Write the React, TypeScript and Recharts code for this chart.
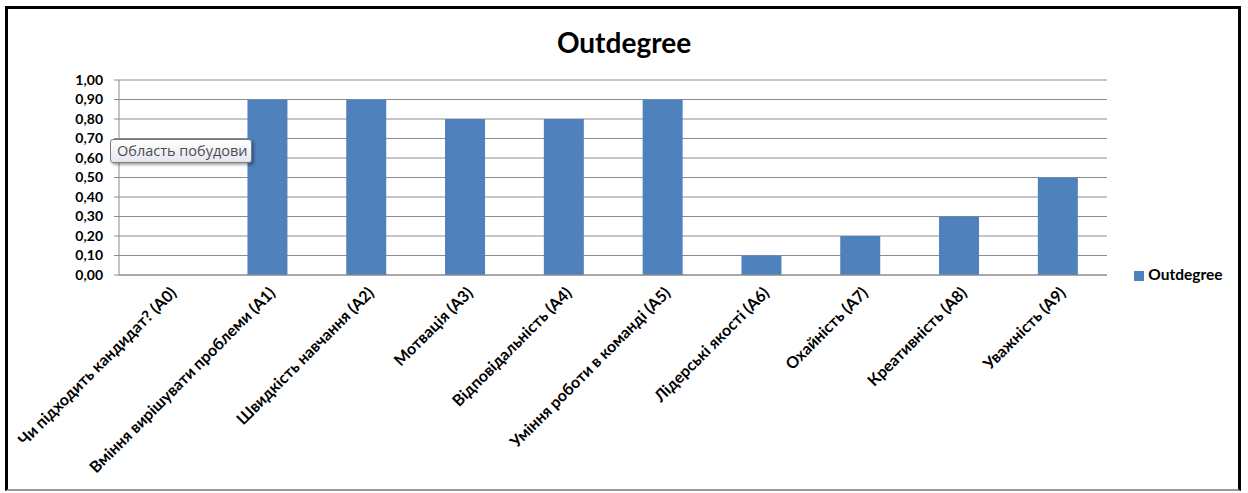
import { BarChart, Bar, XAxis, YAxis, CartesianGrid, Legend } from 'recharts';

const categories = [
  'Чи підходить кандидат? (A0)',
  'Вміння вирішувати проблеми (A1)',
  'Швидкість навчання (A2)',
  'Мотвація (A3)',
  'Відповідальність (A4)',
  'Уміння роботи в команді (A5)',
  'Лідерські якості (A6)',
  'Охайність (A7)',
  'Креативність (A8)',
  'Уважність (A9)',
];
const outdegree = [0, 0.9, 0.9, 0.8, 0.8, 0.9, 0.1, 0.2, 0.3, 0.5];
const yTicks = [0, 0.1, 0.2, 0.3, 0.4, 0.5, 0.6, 0.7, 0.8, 0.9, 1.0];
const edgeTicks = [0, 1, 2, 3, 4, 5, 6, 7, 8, 9, 10];

const FONT = 'Lato, "Open Sans", sans-serif';
const BAR_COLOR = '#4f81bd';
const GRID = '#8c8c8c';

const data = categories.map((name, i) => ({ name, idx: i + 0.5, value: outdegree[i] }));

const fmt = (v: number) => v.toFixed(2).replace('.', ',');

function XLabel(props: any) {
  const { x, y, payload } = props;
  return (
    <text
      transform={`translate(${x + 5},${y + 7}) rotate(-45)`}
      textAnchor="end"
      dy="0.35em"
      fontFamily={FONT}
      fontWeight={700}
      fontSize={16}
      fill="#000"
    >
      {payload.value}
    </text>
  );
}

export default function App() {
  return (
    <div style={{ position: 'absolute', left: 0, top: 0, width: 1248, height: 493, background: '#fff', fontFamily: FONT }}>
      <div
        style={{
          position: 'absolute',
          left: 5,
          top: 6,
          width: 1230,
          height: 480,
          borderTop: '3px solid #000',
          borderLeft: '3px solid #000',
          borderRight: '3px solid #000',
          borderBottom: '2px solid #9a9a9a',
        }}
      />
      <div
        style={{
          position: 'absolute',
          left: 0,
          top: 24,
          width: 1248,
          textAlign: 'center',
          fontWeight: 700,
          fontSize: 28,
          lineHeight: '36px',
          color: '#000',
        }}
      >
        Outdegree
      </div>
      <div style={{ position: 'absolute', left: 0, top: 0 }}>
        <BarChart
          width={1248}
          height={493}
          data={data}
          margin={{ top: 80, right: 141, bottom: 18, left: 59 }}
          barCategoryGap="30%"
        >
          <CartesianGrid horizontal vertical={false} stroke={GRID} strokeWidth={1} />
          <XAxis
            xAxisId="edges"
            type="number"
            dataKey="idx"
            domain={[0, 10]}
            ticks={edgeTicks}
            interval={0}
            height={0}
            axisLine={false}
            tickSize={5}
            tickLine={{ stroke: GRID }}
            tickFormatter={() => ''}
          />
          <XAxis
            dataKey="name"
            height={200}
            interval={0}
            axisLine={{ stroke: GRID }}
            tickLine={false}
            tick={<XLabel />}
          />
          <YAxis
            width={60}
            domain={[0, 1]}
            ticks={yTicks}
            interval={0}
            tickFormatter={fmt}
            axisLine={{ stroke: GRID }}
            tickLine={{ stroke: GRID }}
            tickSize={5}
            tickMargin={11}
            tick={{ fill: '#000', fontFamily: FONT, fontWeight: 700, fontSize: 14 }}
          />
          <Legend
            layout="horizontal"
            verticalAlign="middle"
            align="center"
            iconType="square"
            iconSize={10}
            wrapperStyle={{ position: 'absolute', left: 1126, top: 264, width: 115, textAlign: 'left' }}
            formatter={(v) => (
              <span style={{ color: '#000', fontWeight: 700, fontSize: 15.5, fontFamily: FONT }}>{v}</span>
            )}
          />
          <Bar dataKey="value" name="Outdegree" fill={BAR_COLOR} isAnimationActive={false} />
        </BarChart>
      </div>
      <div
        style={{
          position: 'absolute',
          left: 110,
          top: 139,
          width: 142,
          height: 24,
          boxSizing: 'border-box',
          border: '1px solid #7a7a7a',
          borderRadius: 3,
          background: 'linear-gradient(#ffffff, #e4e5f0)',
          boxShadow: '2px 2px 3px rgba(0,0,0,0.35)',
          color: '#4c4c4c',
          fontSize: 14.5,
          lineHeight: '22px',
          paddingLeft: 6,
          whiteSpace: 'nowrap',
          fontFamily: '"Open Sans", sans-serif',
        }}
      >
        Область побудови
      </div>
    </div>
  );
}
